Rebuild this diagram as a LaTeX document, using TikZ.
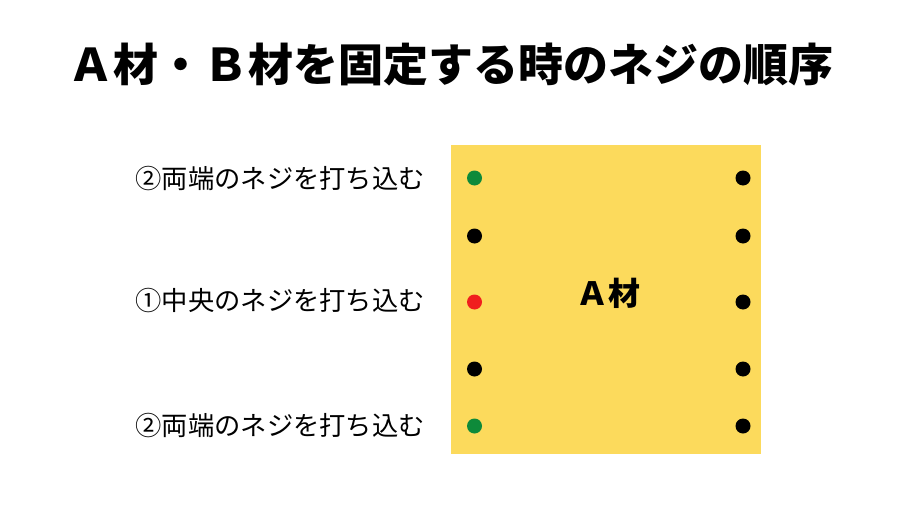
\documentclass[tikz,border=0pt]{standalone}
\usepackage{fontspec}
\newfontfamily\jp{Noto Sans CJK JP}
\newfontfamily\jpheavy[FakeBold=1.5]{Noto Sans CJK JP Bold}
\definecolor{wood}{RGB}{252,218,92}
\definecolor{dgreen}{RGB}{14,138,58}
\definecolor{dred}{RGB}{240,30,30}
\tikzset{
  lbl/.style={font=\jp\fontsize{26.3}{26.3}\selectfont, anchor=east, inner sep=0pt},
  screw/.style={circle, fill=black, minimum size=15pt, inner sep=0pt},
}
\begin{document}
\begin{tikzpicture}[x=1pt,y=-1pt]
\useasboundingbox (0,0) rectangle (900,506);
\fill[white] (0,0) rectangle (900,506);
\node[font=\jp\bfseries\fontsize{45}{45}\selectfont, inner sep=0pt] (title) at (451,65) {Ａ材・Ｂ材を固定する時のネジの順序};
\node[fill=wood, minimum width=310pt, minimum height=309pt, inner sep=0pt] (board) at (606,299.5) {};
\node[font=\jp\bfseries\fontsize{32}{32}\selectfont, inner sep=0pt] (alabel) at (608,293) {Ａ材};
\node[screw, fill=dgreen] (l1) at (474.5,178) {};
\node[screw] (l2) at (474.5,236) {};
\node[screw, fill=dred] (l3) at (474.5,302) {};
\node[screw] (l4) at (474.5,369) {};
\node[screw, fill=dgreen] (l5) at (474.5,426) {};
\node[screw] (r1) at (743,178) {};
\node[screw] (r2) at (743,236) {};
\node[screw] (r3) at (743,302) {};
\node[screw] (r4) at (743,369) {};
\node[screw] (r5) at (743,426) {};
\node[lbl] (t1) at (425,179) {②両端のネジを打ち込む};
\node[lbl] (t2) at (425,301) {①中央のネジを打ち込む};
\node[lbl] (t3) at (425,426) {②両端のネジを打ち込む};
\end{tikzpicture}
\end{document}
